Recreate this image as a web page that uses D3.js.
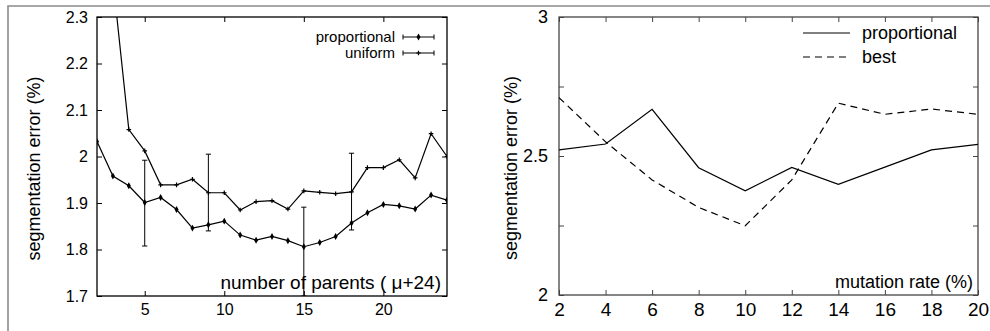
<!DOCTYPE html>
<html>
<head>
<meta charset="utf-8">
<script src="https://cdn.jsdelivr.net/npm/d3@7"></script>
<style>
  body { margin: 0; background: #fff; }
  text { font-family: "Liberation Sans", Arial, Helvetica, sans-serif; fill: #000; }
</style>
</head>
<body>
<svg id="chart" width="990" height="331"></svg>
<script>
// ---- left panel: number of parents ----
const parents = [2, 3, 4, 5, 6, 7, 8, 9, 10, 11, 12, 13, 14, 15, 16, 17, 18, 19, 20, 21, 22, 23, 24]
const parentsProportional = [2.032, 1.958, 1.937, 1.901, 1.912, 1.886, 1.846, 1.853, 1.861, 1.831, 1.820, 1.828,
  1.819, 1.806, 1.815, 1.828, 1.857, 1.879, 1.897, 1.894, 1.887, 1.917, 1.906]
const parentsUniform = [2.62, 2.38, 2.058, 2.012, 1.939, 1.939, 1.951, 1.922, 1.922, 1.885, 1.903, 1.905,
  1.887, 1.926, 1.923, 1.920, 1.924, 1.976, 1.976, 1.993, 1.954, 2.049, 2.000]
// [x, low, high]
const proportionalErrors = [[5, 1.8075, 1.992], [15, 1.70, 1.891]]
const uniformErrors = [[9, 1.840, 2.005], [18, 1.842, 2.007]]
const parentsXTicks = [5, 10, 15, 20]
const parentsYTicks = [1.7, 1.8, 1.9, 2, 2.1, 2.2, 2.3]

// ---- right panel: mutation rate ----
const mutationRates = [2, 4, 6, 8, 10, 12, 14, 16, 18, 20]
const mutationProportional = [2.522, 2.543, 2.668, 2.458, 2.375, 2.459, 2.398, 2.460, 2.522, 2.542]
const mutationBest = [2.710, 2.551, 2.414, 2.315, 2.249, 2.414, 2.690, 2.650, 2.669, 2.650]
const mutationXTicks = [2, 4, 6, 8, 10, 12, 14, 16, 18, 20]
const mutationYTicks = [2, 2.25, 2.5, 2.75, 3]
const mutationYLabels = [2, 2.5, 3]

const svg = d3.select('#chart')

// grey page frame
svg.append('path')
  .attr('d', 'M8,331V6H990')
  .attr('fill', 'none')
  .attr('stroke', '#8a8a8a')
  .attr('stroke-width', 1.6)

function panel(id, box, xDomain, yDomain, opts) {
  const x = d3.scaleLinear(xDomain, [box.left, box.right])
  const y = d3.scaleLinear(yDomain, [box.bottom, box.top])
  const g = svg.append('g')

  g.append('clipPath').attr('id', id)
    .append('rect')
    .attr('x', box.left).attr('y', box.top)
    .attr('width', box.right - box.left).attr('height', box.bottom - box.top)

  const fmt = opts.yFormat || (d => String(d))
  const ticksStyle = (a) => {
    a.select('.domain').remove()
    a.selectAll('line').attr('stroke', opts.frame).attr('stroke-width', 1)
    a.selectAll('text').attr('font-family', null).attr('fill', '#000')
  }

  g.append('g').attr('transform', `translate(0,${box.bottom})`)
    .call(d3.axisBottom(x).tickValues(opts.xTicks).tickSize(-5).tickPadding(opts.xPad).tickFormat(d => String(d)))
    .call(ticksStyle)
    .selectAll('text').attr('font-size', opts.xFont)
  g.append('g').attr('transform', `translate(0,${box.top})`)
    .call(d3.axisTop(x).tickValues(opts.xTicks).tickSize(-5).tickFormat(''))
    .call(ticksStyle)
  g.append('g').attr('transform', `translate(${box.left},0)`)
    .call(d3.axisLeft(y).tickValues(opts.yTicks).tickSize(-5).tickPadding(opts.yPad).tickFormat(fmt))
    .call(ticksStyle)
    .selectAll('text').attr('font-size', opts.yFont)
  g.append('g').attr('transform', `translate(${box.right},0)`)
    .call(d3.axisRight(y).tickValues(opts.yTicks).tickSize(-5).tickFormat(''))
    .call(ticksStyle)

  g.append('rect')
    .attr('x', box.left).attr('y', box.top)
    .attr('width', box.right - box.left).attr('height', box.bottom - box.top)
    .attr('fill', 'none')
    .attr('stroke', opts.frame)
    .attr('stroke-width', 1.3)

  g.append('text')
    .attr('transform', `translate(${opts.yLabelX},${(box.top + box.bottom) / 2 + 12}) rotate(-90)`)
    .attr('text-anchor', 'middle')
    .attr('font-size', 18)
    .text('segmentation error (%)')

  g.append('text')
    .attr('x', box.right - opts.xLabelInset)
    .attr('y', box.bottom - 7)
    .attr('text-anchor', 'end')
    .attr('font-size', opts.xLabelFont)
    .text(opts.xLabel)

  const plot = g.append('g').attr('clip-path', `url(#${id})`)
  return { x, y, g, plot }
}

// ---------- left ----------
const L = panel('clipL', { left: 97, right: 447, top: 17, bottom: 296 }, [2, 24], [1.7, 2.3], {
  xTicks: parentsXTicks, yTicks: parentsYTicks, xPad: 8, yPad: 9, xFont: 16, yFont: 16,
  frame: '#000', yLabelX: 40, xLabel: 'number of parents ( \u03bc+24)', xLabelInset: 6, xLabelFont: 19,
})

const diamond = d3.symbol(d3.symbolDiamond, 14)
const plus = 'M-2.3,0H2.3M0,-2.3V2.3'

function lineSeries(p, xs, ys, dash) {
  const line = d3.line().x((d, i) => p.x(xs[i])).y(d => p.y(d))
  p.plot.append('path')
    .attr('d', line(ys))
    .attr('fill', 'none')
    .attr('stroke', '#000')
    .attr('stroke-width', 1.2)
    .attr('stroke-dasharray', dash || null)
}

function errorBars(p, errs) {
  errs.forEach(([xv, lo, hi]) => {
    const cx = p.x(xv)
    const path = `M${cx},${p.y(lo)}V${p.y(hi)}M${cx - 2.6},${p.y(lo)}H${cx + 2.6}M${cx - 2.6},${p.y(hi)}H${cx + 2.6}`
    p.plot.append('path').attr('d', path).attr('stroke', '#000').attr('stroke-width', 1).attr('fill', 'none')
  })
}

lineSeries(L, parents, parentsProportional)
lineSeries(L, parents, parentsUniform)
errorBars(L, proportionalErrors)
errorBars(L, uniformErrors)

L.plot.selectAll('path.pm').data(parentsProportional).join('path')
  .attr('class', 'pm')
  .attr('transform', (d, i) => `translate(${L.x(parents[i])},${L.y(d)})`)
  .attr('d', diamond)
  .attr('fill', '#000')
L.plot.selectAll('path.um').data(parentsUniform).join('path')
  .attr('class', 'um')
  .attr('transform', (d, i) => `translate(${L.x(parents[i])},${L.y(d)})`)
  .attr('d', plus)
  .attr('stroke', '#000')
  .attr('stroke-width', 1.2)

// left legend
const legL = [
  { name: 'proportional', y: 37, mark: 'diamond' },
  { name: 'uniform', y: 53, mark: 'plus' },
]
legL.forEach(e => {
  L.g.append('text')
    .attr('x', 395).attr('y', e.y + 5)
    .attr('text-anchor', 'end').attr('font-size', 15)
    .text(e.name)
  L.g.append('path')
    .attr('d', `M403,${e.y}H434M403,${e.y - 2.5}V${e.y + 2.5}M434,${e.y - 2.5}V${e.y + 2.5}`)
    .attr('stroke', '#000').attr('stroke-width', 1).attr('fill', 'none')
  const m = L.g.append('path').attr('transform', `translate(418.5,${e.y})`)
  if (e.mark === 'diamond') m.attr('d', diamond).attr('fill', '#000')
  else m.attr('d', plus).attr('stroke', '#000').attr('stroke-width', 1.2)
})

// ---------- right ----------
const R = panel('clipR', { left: 559, right: 978, top: 17, bottom: 295 }, [2, 20], [2, 3], {
  xTicks: mutationXTicks, yTicks: mutationYTicks, xPad: 8, yPad: 11, xFont: 19, yFont: 18,
  frame: '#444', yLabelX: 517, xLabel: 'mutation rate (%)', xLabelInset: 5, xLabelFont: 18,
  yFormat: d => (mutationYLabels.includes(d) ? String(d) : ''),
})

lineSeries(R, mutationRates, mutationProportional)
lineSeries(R, mutationRates, mutationBest, '7,5')

const legR = [
  { name: 'proportional', y: 33, dash: null },
  { name: 'best', y: 57, dash: '7,5' },
]
legR.forEach(e => {
  R.g.append('path')
    .attr('d', `M803,${e.y}H850`)
    .attr('stroke', '#000').attr('stroke-width', 1.2)
    .attr('stroke-dasharray', e.dash)
  R.g.append('text')
    .attr('x', 862).attr('y', e.y + 6)
    .attr('font-size', 18)
    .text(e.name)
})
</script>
</body>
</html>
